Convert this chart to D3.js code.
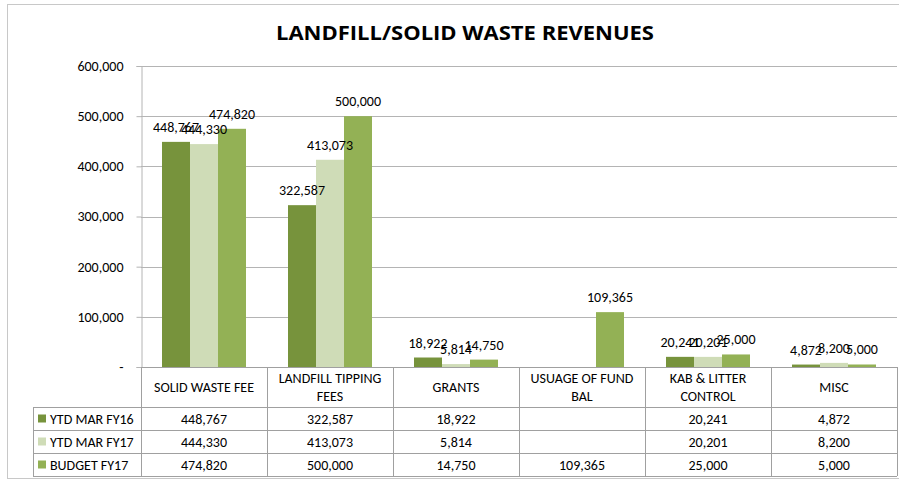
<!DOCTYPE html>
<html lang="en">
  <head>
    <meta charset="UTF-8" />
    <title>Landfill/Solid Waste Revenues</title>
    <script src="https://d3js.org/d3.v7.min.js"></script>
    <style>
      body {
        margin: 0;
        background: #fff;
        font-family: Carlito, Lato, "Liberation Sans", sans-serif;
      }
      svg {
        display: block;
      }
    </style>
  </head>
  <body>
    <svg width="899" height="483"></svg>
    <script>
      // data
      const categories = [
        ["SOLID WASTE FEE"],
        ["LANDFILL TIPPING", "FEES"],
        ["GRANTS"],
        ["USUAGE OF FUND", "BAL"],
        ["KAB & LITTER", "CONTROL"],
        ["MISC"],
      ];
      const seriesNames = ["YTD MAR FY16", "YTD MAR FY17", "BUDGET FY17"];
      const ytdFy16 = [448767, 322587, 18922, null, 20241, 4872];
      const ytdFy17 = [444330, 413073, 5814, null, 20201, 8200];
      const budgetFy17 = [474820, 500000, 14750, 109365, 25000, 5000];
      const yTicks = [0, 100000, 200000, 300000, 400000, 500000, 600000];
      const colors = ["#77933c", "#cfdcb7", "#93b155"];

      const series = [ytdFy16, ytdFy17, budgetFy17];
      const fmt = d3.format(",");
      const fs = 14; // text size

      const svg = d3.select("svg");
      const plotLeft = 141,
        plotRight = 897,
        plotTop = 66,
        axisY = 367;

      // chart border
      svg.append("rect")
        .attr("x", 7.5).attr("y", 4.5)
        .attr("width", 900).attr("height", 474)
        .attr("fill", "none")
        .attr("stroke", "#c8c8c8");

      svg.append("text")
        .attr("x", 465).attr("y", 40)
        .attr("text-anchor", "middle")
        .attr("font-family", "'Open Sans', Lato, sans-serif")
        .attr("font-size", 20)
        .attr("font-weight", "bold")
        .attr("textLength", 378)
        .attr("lengthAdjust", "spacingAndGlyphs")
        .attr("fill", "#000")
        .text("LANDFILL/SOLID WASTE REVENUES");

      const catIdx = d3.range(categories.length);
      const x = d3.scaleBand().domain(catIdx).range([plotLeft, plotRight]);
      const xs = d3.scaleBand()
        .domain(d3.range(series.length))
        .range([x.bandwidth() / 6, x.bandwidth() * 5 / 6]);
      const y = d3.scaleLinear().domain([0, 600000]).range([axisY, plotTop]);

      // gridlines
      svg.append("g")
        .selectAll("line")
        .data(yTicks.slice(1))
        .join("line")
        .attr("x1", plotLeft).attr("x2", plotRight)
        .attr("y1", (d) => Math.round(y(d)) + 0.5)
        .attr("y2", (d) => Math.round(y(d)) + 0.5)
        .attr("stroke", "#b4b4b4");

      // y axis
      const yAxis = d3.axisLeft(y)
        .tickValues(yTicks)
        .tickSize(5)
        .tickPadding(13)
        .tickFormat((d) => (d === 0 ? "-" : fmt(d)));
      const ya = svg.append("g")
        .attr("transform", `translate(${plotLeft + 0.5},0)`)
        .call(yAxis);
      ya.select(".domain").attr("stroke", "#b4b4b4");
      ya.selectAll(".tick line").attr("stroke", "#b4b4b4");
      ya.selectAll(".tick text")
        .attr("font-size", fs)
        .attr("font-family", "Carlito, Lato, 'Liberation Sans', sans-serif")
        .attr("fill", "#000");

      // bars first, then all labels on top
      const barG = svg.append("g");
      const labG = svg.append("g");
      series.forEach((vals, s) => {
        const pts = catIdx.filter((i) => vals[i] != null);
        barG.append("g")
          .selectAll("rect")
          .data(pts)
          .join("rect")
          .attr("x", (i) => x(i) + xs(s))
          .attr("width", xs.bandwidth())
          .attr("y", (i) => y(vals[i]))
          .attr("height", (i) => axisY - y(vals[i]))
          .attr("fill", colors[s]);
        labG.append("g")
          .selectAll("text")
          .data(pts)
          .join("text")
          .attr("x", (i) => x(i) + xs(s) + xs.bandwidth() / 2)
          .attr("y", (i) => y(vals[i]) - 10)
          .attr("text-anchor", "middle")
          .attr("font-size", fs)
          .attr("fill", "#000")
          .text((i) => fmt(vals[i]));
      });

      // data table
      const rowY = [axisY, 407, 430, 453, 476];
      const tableLeft = 33;
      const tbl = svg.append("g").attr("stroke", "#a0a0a0").attr("fill", "none");
      rowY.forEach((ry, r) => {
        tbl.append("line")
          .attr("x1", r === 0 ? plotLeft : tableLeft).attr("x2", plotRight)
          .attr("y1", ry + 0.5).attr("y2", ry + 0.5);
      });
      catIdx.concat([categories.length]).forEach((i) => {
        const vx = i === categories.length ? plotRight : x(i);
        tbl.append("line")
          .attr("x1", Math.round(vx) + 0.5).attr("x2", Math.round(vx) + 0.5)
          .attr("y1", axisY).attr("y2", rowY[4]);
      });
      tbl.append("line")
        .attr("x1", tableLeft + 0.5).attr("x2", tableLeft + 0.5)
        .attr("y1", rowY[1]).attr("y2", rowY[4]);

      // header labels
      const hdr = svg.append("g");
      categories.forEach((lines, i) => {
        const cy = (rowY[0] + rowY[1]) / 2;
        const t = hdr.append("text")
          .attr("text-anchor", "middle")
          .attr("font-size", fs)
          .attr("fill", "#000");
        lines.forEach((ln, k) => {
          t.append("tspan")
            .attr("x", x(i) + x.bandwidth() / 2)
            .attr("y", cy + 5 + (k - (lines.length - 1) / 2) * 18)
            .text(ln);
        });
      });

      // value rows + legend keys
      series.forEach((vals, s) => {
        const cy = (rowY[s + 1] + rowY[s + 2]) / 2;
        svg.append("rect")
          .attr("x", 38).attr("y", cy - 4)
          .attr("width", 8).attr("height", 8)
          .attr("fill", colors[s]);
        svg.append("text")
          .attr("x", 50).attr("y", cy + 5)
          .attr("font-size", fs)
          .attr("fill", "#000")
          .text(seriesNames[s]);
        svg.append("g")
          .selectAll("text")
          .data(catIdx.filter((i) => vals[i] != null))
          .join("text")
          .attr("x", (i) => x(i) + x.bandwidth() / 2)
          .attr("y", cy + 5)
          .attr("text-anchor", "middle")
          .attr("font-size", fs)
          .attr("fill", "#000")
          .text((i) => fmt(vals[i]));
      });
    </script>
  </body>
</html>
